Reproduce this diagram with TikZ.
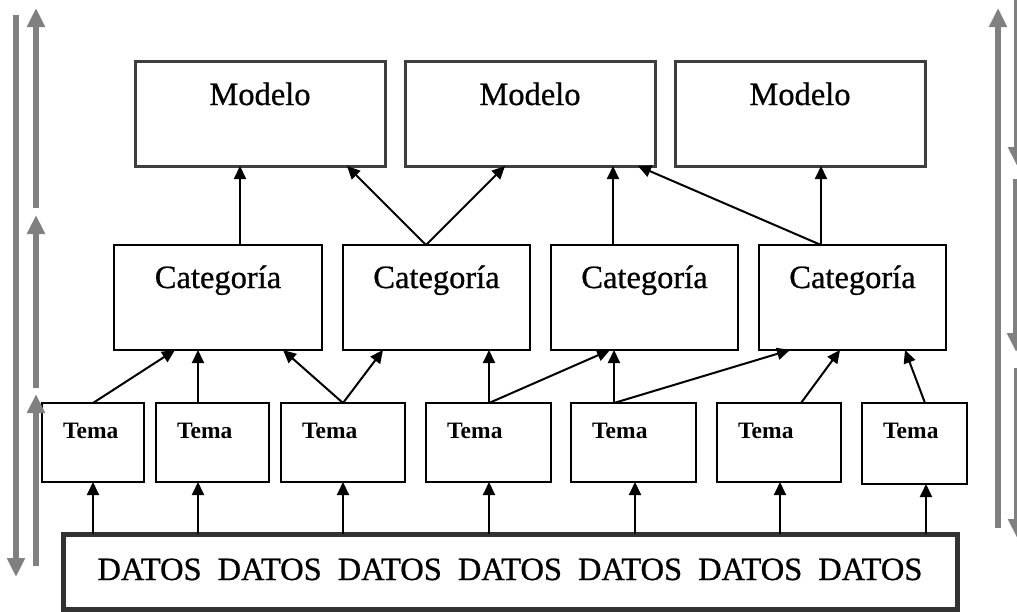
\documentclass[tikz,border=0pt]{standalone}
\usepackage{fontspec}
\setmainfont{Liberation Serif}
\newfontfamily\heavyserif{Liberation Serif}[FakeBold=0.7]
\usetikzlibrary{arrows.meta,calc}
\definecolor{sidegray}{RGB}{128,128,128}
\definecolor{darkbox}{RGB}{62,62,62}
\definecolor{datbox}{RGB}{50,50,50}
\tikzset{
  modelbox/.style={draw=darkbox, line width=3pt, minimum width=250pt, minimum height=105pt, anchor=north west, inner sep=0pt, outer sep=0pt},
  catbox/.style={draw=black, line width=1.6pt, minimum height=105pt, anchor=north west, inner sep=0pt, outer sep=0pt},
  temabox/.style={draw=black, line width=1.6pt, minimum height=79pt, anchor=north west, inner sep=0pt, outer sep=0pt},
  datosbox/.style={draw=datbox, line width=5pt, minimum width=894pt, minimum height=75pt, anchor=north west, inner sep=0pt, outer sep=0pt},
  bigtxt/.style={inner sep=0pt, font=\heavyserif\fontsize{32.5}{38}\selectfont},
  datatxt/.style={inner sep=0pt, font=\heavyserif\fontsize{32.5}{37}\selectfont},
  tematxt/.style={inner sep=0pt, anchor=base west, font=\fontsize{23.5}{28}\selectfont\bfseries},
  conn/.style={line width=2pt, -{Triangle[length=13pt,width=12pt]}},
  side/.style={draw=sidegray, line width=6pt, -{Triangle[length=19pt,width=17pt]}},
}
\begin{document}
\begin{tikzpicture}[x=1pt,y=-1pt]
\clip (0,0) rectangle (1017,611);
\fill[white] (0,0) rectangle (1017,611);

% Modelo boxes
\node[modelbox] (m1) at (135,61) {};
\node[modelbox] (m2) at (405,61) {};
\node[modelbox] (m3) at (675,61) {};
\node[bigtxt, anchor=base] (m1t) at ($(m1.north)+(0,44)$) {Modelo};
\node[bigtxt, anchor=base] (m2t) at ($(m2.north)+(0,44)$) {Modelo};
\node[bigtxt, anchor=base] (m3t) at ($(m3.north)+(0,44)$) {Modelo};

% Categoria boxes
\node[catbox, minimum width=208pt] (c1) at (114,245) {};
\node[catbox, minimum width=187pt] (c2) at (343,245) {};
\node[catbox, minimum width=187pt] (c3) at (551,245) {};
\node[catbox, minimum width=187pt] (c4) at (759,245) {};
\node[bigtxt, anchor=base] (c1t) at ($(c1.north)+(0,43)$) {Categoría};
\node[bigtxt, anchor=base] (c2t) at ($(c2.north)+(0,43)$) {Categoría};
\node[bigtxt, anchor=base] (c3t) at ($(c3.north)+(0,43)$) {Categoría};
\node[bigtxt, anchor=base] (c4t) at ($(c4.north)+(0,43)$) {Categoría};

% Tema boxes
\node[temabox, minimum width=102pt] (t1) at (42,403) {};
\node[temabox, minimum width=113pt] (t2) at (156,403) {};
\node[temabox, minimum width=124pt] (t3) at (281,403) {};
\node[temabox, minimum width=125pt] (t4) at (426,403) {};
\node[temabox, minimum width=125pt] (t5) at (571,403) {};
\node[temabox, minimum width=124pt] (t6) at (717,403) {};
\node[temabox, minimum width=105pt, minimum height=81pt] (t7) at (862,403) {};
\foreach \t in {t1,t2,t3,t4,t5,t6,t7}{
  \node[tematxt] (\t txt) at ($(\t.north west)+(21,35)$) {Tema};
}

% DATOS box
\node[datosbox] (dat) at (63,534) {};
\node[datatxt, anchor=base] (dattxt) at ($(dat.north)+(0,46)$)
  {DATOS\hspace{16pt}DATOS\hspace{16pt}DATOS\hspace{16pt}DATOS\hspace{16pt}DATOS\hspace{16pt}DATOS\hspace{16pt}DATOS};

% DATOS -> Tema
\draw[conn] ($(dat.north west)+(30,0)$)  -- ($(t1.south west)+(51,0)$);
\draw[conn] ($(dat.north west)+(135,0)$) -- ($(t2.south west)+(42,0)$);
\draw[conn] ($(dat.north west)+(280,0)$) -- ($(t3.south west)+(62,0)$);
\draw[conn] ($(dat.north west)+(426,0)$) -- ($(t4.south west)+(63,0)$);
\draw[conn] ($(dat.north west)+(572,0)$) -- ($(t5.south west)+(64,0)$);
\draw[conn] ($(dat.north west)+(717,0)$) -- ($(t6.south west)+(63,0)$);
\draw[conn] ($(dat.north west)+(863,0)$) -- ($(t7.south west)+(64,0)$);

% Tema -> Categoria
\draw[conn] ($(t1.north west)+(51,0)$) -- ($(c1.south west)+(61,0)$);
\draw[conn] ($(t2.north west)+(42,0)$) -- ($(c1.south west)+(84,0)$);
\draw[conn] ($(t3.north west)+(62,0)$) -- ($(c1.south west)+(169,0)$);
\draw[conn] ($(t3.north west)+(62,0)$) -- ($(c2.south west)+(40,0)$);
\draw[conn] ($(t4.north west)+(63,0)$) -- ($(c2.south west)+(146,0)$);
\draw[conn] ($(t4.north west)+(63,0)$) -- ($(c3.south west)+(59,0)$);
\draw[conn] ($(t5.north west)+(43,0)$) -- ($(c3.south west)+(63,0)$);
\draw[conn] ($(t5.north west)+(43,0)$) -- ($(c4.south west)+(31,0)$);
\draw[conn] ($(t6.north west)+(84,0)$) -- ($(c4.south west)+(81,0)$);
\draw[conn] ($(t7.north west)+(63,0)$) -- ($(c4.south west)+(146,0)$);

% Categoria -> Modelo
\draw[conn] ($(c1.north west)+(126,0)$) -- ($(m1.south west)+(105,0)$);
\draw[conn] ($(c2.north west)+(83,0)$)  -- ($(m1.south west)+(212,0)$);
\draw[conn] ($(c2.north west)+(83,0)$)  -- ($(m2.south west)+(100,0)$);
\draw[conn] ($(c3.north west)+(62,0)$)  -- ($(m2.south west)+(208,0)$);
\draw[conn] ($(c4.north west)+(62,0)$)  -- ($(m2.south west)+(233,0)$);
\draw[conn] ($(c4.north west)+(62,0)$)  -- ($(m3.south west)+(146,0)$);

% side arrows left
\coordinate (ld1) at (16,15);   \coordinate (ld2) at (16,577);
\coordinate (lu1a) at (36,208); \coordinate (lu1b) at (36,8);
\coordinate (lu2a) at (36,388); \coordinate (lu2b) at (36,215);
\coordinate (lu3a) at (36,566); \coordinate (lu3b) at (36,394);
\draw[side] (ld1) -- (ld2);
\draw[side] (lu1a) -- (lu1b);
\draw[side] (lu2a) -- (lu2b);
\draw[side] (lu3a) -- (lu3b);

% side arrows right
\coordinate (ru1) at (998,528); \coordinate (ru2) at (998,8);
\coordinate (rd1a) at (1017,-2);  \coordinate (rd1b) at (1017,166);
\coordinate (rd2a) at (1016,179); \coordinate (rd2b) at (1016,352);
\coordinate (rd3a) at (1017,368); \coordinate (rd3b) at (1017,538);
\draw[side] (ru1) -- (ru2);
\draw[side] (rd1a) -- (rd1b);
\draw[side] (rd2a) -- (rd2b);
\draw[side] (rd3a) -- (rd3b);
\end{tikzpicture}
\end{document}
